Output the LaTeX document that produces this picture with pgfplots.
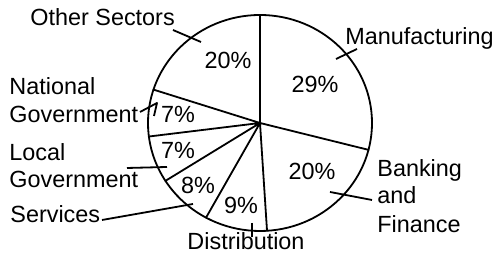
\documentclass[border=0pt]{standalone}
\usepackage{pgfplots}
\usepackage{pgfplotstable}
\pgfplotsset{compat=1.18}
\usepackage{fontspec}
\setmainfont{Liberation Sans}
\pgfplotstableread{
sector pct
Manufacturing 29
Banking 20
Distribution 9
Services 8
Local 7
National 7
Other 20
}\piedata
\begin{document}
\begin{tikzpicture}
\def\cx{260}\def\cy{137}\def\rx{112}\def\ry{108}
\def\cum{0}
\def\radials{}
\pgfplotsforeachungrouped \i in {0,...,6}{%
  \pgfplotstablegetelem{\i}{pct}\of\piedata
  \pgfmathsetmacro\cum{\cum+\pgfplotsretval}%
  \pgfmathsetmacro\ang{90-3.6*\cum}%
  \pgfmathsetmacro\ex{\cx+\rx*cos(\ang)}%
  \pgfmathsetmacro\ey{\cy+\ry*sin(\ang)}%
  \xdef\radials{\radials (\cx,\cy) (\ex,\ey)}%
}
\begin{axis}[x=0.5pt, y=0.5pt, xmin=0, xmax=500, ymin=0, ymax=260,
  hide axis, clip=false, scale only axis,
  every axis plot post/.append style={black, mark=none, solid, line width=0.9pt, line join=round},
  nodes={font=\fontsize{11.7}{14}\selectfont, inner sep=0pt}]
\draw[line width=0.9pt] (axis cs:\cx,\cy) ellipse [x radius=56pt, y radius=54pt];
\edef\cmd{\noexpand\addplot coordinates {\radials};}\cmd
% leader lines
\addplot coordinates {(173,230) (201,218)};
\addplot coordinates {(336,201) (357,211)};
\addplot coordinates {(330,68) (372,60)};
\addplot coordinates {(252,37) (252,23)};
\addplot coordinates {(102,40) (193,56)};
\addplot coordinates {(127,92) (167,93)};
\addplot coordinates {(140,148) (157,157) (154,144)};
% percentages
\node[anchor=base] at (axis cs:315,167) {29\%};
\node[anchor=base] at (axis cs:228,191) {20\%};
\node[anchor=base] at (axis cs:178,137) {7\%};
\node[anchor=base] at (axis cs:178,101) {7\%};
\node[anchor=base] at (axis cs:198,66) {8\%};
\node[anchor=base] at (axis cs:241,46) {9\%};
\node[anchor=base] at (axis cs:312,80) {20\%};
% labels
\node[anchor=base west] at (axis cs:30,234) {Other Sectors};
\node[anchor=base west] at (axis cs:345,215) {Manufacturing};
\node[anchor=base west] at (axis cs:377,83) {Banking};
\node[anchor=base west] at (axis cs:377,56) {and};
\node[anchor=base west] at (axis cs:377,27) {Finance};
\node[anchor=base] at (axis cs:246,10) {Distribution};
\node[anchor=base west] at (axis cs:10,37) {Services};
\node[anchor=base west] at (axis cs:9,99) {Local};
\node[anchor=base west] at (axis cs:9,72) {Government};
\node[anchor=base west] at (axis cs:9,165) {National};
\node[anchor=base west] at (axis cs:9,137) {Government};
\end{axis}
\pgfresetboundingbox
\path (current axis.south west) rectangle (current axis.north east);
\end{tikzpicture}
\end{document}
